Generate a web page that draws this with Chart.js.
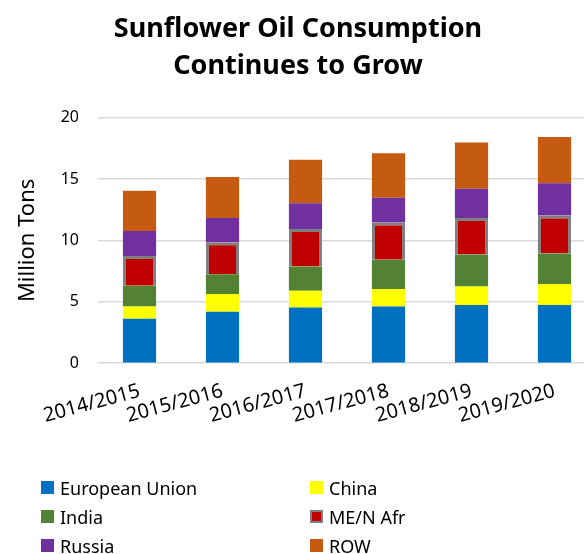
<!DOCTYPE html>
<html>
<head>
<meta charset="utf-8">
<script src="https://cdn.jsdelivr.net/npm/chart.js@4"></script>
<style>
  html, body { margin: 0; padding: 0; background: #fff; overflow: hidden; }
  #wrap { position: relative; width: 604px; height: 554px; }
  #legend {
    position: absolute; left: 41px; top: 476px;
    display: grid; grid-template-columns: 269px 200px; row-gap: 6px;
    font-family: "Noto Sans", sans-serif; font-size: 18px; color: #000;
  }
  .item { display: flex; align-items: center; height: 23px; }
  .box { width: 13px; height: 13px; margin-right: 6px; box-sizing: border-box; }
</style>
</head>
<body>
<div id="wrap">
  <canvas id="chart" width="604" height="554"></canvas>
  <div id="legend"></div>
</div>
<script>
const seasons = ['2014/2015', '2015/2016', '2016/2017', '2017/2018', '2018/2019', '2019/2020'];
const euValues = [3.63, 4.2, 4.53, 4.61, 4.73, 4.73];
const chinaValues = [0.98, 1.43, 1.37, 1.43, 1.52, 1.72];
const indiaValues = [1.7, 1.61, 1.97, 2.38, 2.6, 2.48];
const meValues = [2.43, 2.6, 3.06, 3.03, 2.98, 3.09];
const russiaValues = [2.02, 1.99, 2.1, 2.02, 2.37, 2.63];
const rowValues = [3.28, 3.33, 3.53, 3.63, 3.78, 3.77];
const yTicks = [0, 5, 10, 15, 20];

const series = [
  { label: 'European Union', data: euValues, color: '#0070C0' },
  { label: 'China', data: chinaValues, color: '#FFFF00' },
  { label: 'India', data: indiaValues, color: '#548235' },
  { label: 'ME/N Afr', data: meValues, color: '#C00000', border: '#7F7F7F' },
  { label: 'Russia', data: russiaValues, color: '#7030A0' },
  { label: 'ROW', data: rowValues, color: '#C55A11' }
];

const ctx = document.getElementById('chart').getContext('2d');
const chart = new Chart(ctx, {
  type: 'bar',
  data: {
    labels: seasons,
    datasets: series.map(s => ({
      label: s.label,
      data: s.data,
      backgroundColor: s.color,
      borderColor: s.border || s.color,
      borderWidth: s.border ? 3 : 0,
      categoryPercentage: 0.8,
      barPercentage: 0.5
    }))
  },
  options: {
    responsive: false,
    animation: false,
    layout: { padding: { top: 10, bottom: 118, left: 0, right: 8 } },
    plugins: {
      legend: { display: false },
      tooltip: { enabled: false },
      title: {
        display: true,
        text: ['Sunflower Oil Consumption', 'Continues to Grow'],
        color: '#000',
        font: { family: 'Noto Sans', size: 27, weight: 'bold', lineHeight: 1.4 },
        padding: { top: 0, bottom: 32 }
      }
    },
    scales: {
      x: {
        stacked: true,
        grid: { display: false },
        border: { display: false },
        ticks: {
          color: '#000',
          font: { family: 'Noto Sans', size: 20 },
          autoSkip: false,
          minRotation: 15,
          maxRotation: 15,
          padding: 8
        }
      },
      y: {
        stacked: true,
        min: 0,
        max: 20,
        afterBuildTicks: axis => { axis.ticks = yTicks.map(v => ({ value: v })); },
        afterFit: axis => { axis.width = 98; },
        grid: { color: '#D9D9D9', lineWidth: 1.5, drawTicks: false },
        border: { display: false },
        ticks: {
          color: '#000',
          font: { family: 'Noto Sans', size: 16 },
          padding: 19
        },
        title: {
          display: true,
          text: 'Million Tons',
          color: '#000',
          font: { family: 'Noto Sans', size: 22 },
          padding: { top: 15, bottom: 0 }
        }
      }
    }
  }
});

// legend in two columns, built from the chart's datasets
const legendEl = document.getElementById('legend');
chart.data.datasets.forEach(ds => {
  const item = document.createElement('div');
  item.className = 'item';
  const box = document.createElement('span');
  box.className = 'box';
  box.style.background = ds.backgroundColor;
  if (ds.borderWidth) box.style.border = '2px solid ' + ds.borderColor;
  item.appendChild(box);
  item.appendChild(document.createTextNode(ds.label));
  legendEl.appendChild(item);
});
</script>
</body>
</html>
